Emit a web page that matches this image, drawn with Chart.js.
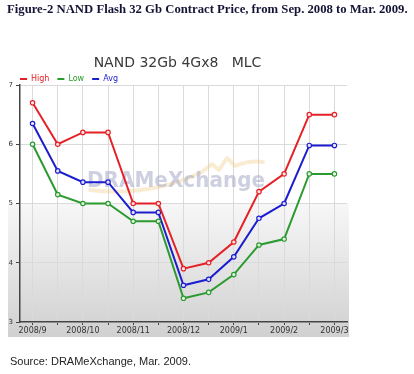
<!DOCTYPE html>
<html>
<head>
<meta charset="utf-8">
<script src="https://cdn.jsdelivr.net/npm/chart.js@4.4.1/dist/chart.umd.min.js"></script>
<style>
  html,body{margin:0;padding:0;background:#fff;}
  #wrap{position:relative;width:414px;height:374px;overflow:hidden;}
  #c{position:absolute;left:0;top:0;}
  #cap{position:absolute;left:7px;top:2px;font-family:"Liberation Serif","Times New Roman",serif;font-weight:bold;font-size:12.5px;color:#141436;white-space:nowrap;}
  #src{position:absolute;left:10px;top:355px;font-family:"Liberation Sans",Arial,sans-serif;font-size:11px;color:#222;white-space:nowrap;}
</style>
</head>
<body>
<div id="wrap">
  <canvas id="c" width="414" height="374"></canvas>
  <div id="cap">Figure-2 NAND Flash 32 Gb Contract Price, from Sep. 2008 to Mar. 2009.</div>
  <div id="src">Source: DRAMeXchange, Mar. 2009.</div>
</div>
<script>
// ---- data ----
const chartTitle = 'NAND 32Gb 4Gx8   MLC';
const periods = ['2008/9 H1','2008/9 H2','2008/10 H1','2008/10 H2','2008/11 H1','2008/11 H2',
                 '2008/12 H1','2008/12 H2','2009/1 H1','2009/1 H2','2009/2 H1','2009/2 H2','2009/3 H1'];
const tickLabels = ['2008/9','','2008/10','','2008/11','','2008/12','','2009/1','','2009/2','','2009/3'];
const highValues = [6.7, 6.0, 6.2, 6.2, 5.0, 5.0, 3.9, 4.0, 4.35, 5.2, 5.5, 6.5, 6.5];
const lowValues  = [6.0, 5.15, 5.0, 5.0, 4.7, 4.7, 3.4, 3.5, 3.8, 4.3, 4.4, 5.5, 5.5];
const avgValues  = [6.35, 5.55, 5.36, 5.36, 4.85, 4.85, 3.62, 3.72, 4.1, 4.75, 5.0, 5.98, 5.98];
const yMin = 3, yMax = 7, yStep = 1;

// fit caption width to the reference
(function(){
  const cap = document.getElementById('cap');
  const target = 401;
  const w = cap.getBoundingClientRect().width;
  cap.style.fontSize = (12.5 * target / w) + 'px';
})();

const FONT = '"DejaVu Sans", Verdana, sans-serif';

const bgPlugin = {
  id: 'bgPanel',
  afterLayout(chart) {
    if (chart.legend) { chart.legend.left = 12; }
    if (chart.titleBlock) { chart.titleBlock.left = 8; }
  },
  beforeDraw(chart) {
    const {ctx, chartArea, scales} = chart;
    const y5 = scales.y.getPixelForValue(5);
    const left = 8, right = chartArea.right + 2, bottom = chartArea.bottom + 15;
    ctx.save();
    const g = ctx.createLinearGradient(0, y5, 0, bottom);
    g.addColorStop(0, '#f7f7f7');
    g.addColorStop(1, '#d0d0d0');
    ctx.fillStyle = g;
    ctx.fillRect(left, y5, right - left, bottom - y5);
    ctx.restore();
  },
  beforeDatasetsDraw(chart) {
    const {ctx} = chart;
    ctx.save();
    // swoosh
    ctx.strokeStyle = 'rgba(240,200,130,0.35)';
    ctx.lineWidth = 4;
    ctx.lineCap = 'round';
    ctx.lineJoin = 'round';
    ctx.beginPath();
    ctx.moveTo(90, 190);
    ctx.quadraticCurveTo(150, 197, 202, 172);
    ctx.lineTo(212, 164);
    ctx.lineTo(219, 170);
    ctx.lineTo(227, 158);
    ctx.lineTo(235, 166);
    ctx.quadraticCurveTo(250, 160, 263, 162);
    ctx.stroke();
    // watermark text
    ctx.font = 'bold 21px ' + FONT;
    ctx.fillStyle = 'rgba(165,170,200,0.55)';
    ctx.textAlign = 'center';
    ctx.textBaseline = 'alphabetic';
    ctx.fillText('DRAMeXchange', 176, 187, 178);
    ctx.restore();
  }
};

const legendFit = {
  id: 'legendFit',
  beforeInit(chart) {
    const lg = chart.legend;
    if (lg && !lg._patched) {
      const f = lg.fit;
      lg.fit = function() { f.call(this); this.height = 18; };
      lg._patched = true;
    }
  }
};

const colors = {high: '#e52127', low: '#2b9a2f', avg: '#1d1dd0'};

new Chart(document.getElementById('c'), {
  type: 'line',
  data: {
    labels: periods,
    datasets: [
      {label: 'High', data: highValues, borderColor: colors.high, backgroundColor: colors.high},
      {label: 'Low', data: lowValues, borderColor: colors.low, backgroundColor: colors.low},
      {label: 'Avg', data: avgValues, borderColor: colors.avg, backgroundColor: colors.avg}
    ].map(d => Object.assign(d, {
      borderWidth: 2, tension: 0, fill: false,
      pointRadius: 2.2, pointBorderWidth: 1.2,
      pointBackgroundColor: 'rgba(255,255,255,0.85)', pointBorderColor: d.borderColor
    }))
  },
  options: {
    responsive: false,
    animation: false,
    devicePixelRatio: 1,
    layout: {padding: {left: 0, right: 67, top: 0, bottom: 38}},
    plugins: {
      title: {
        display: true, text: chartTitle, color: '#3a3a3a',
        font: {family: FONT, size: 14, weight: 'normal'},
        padding: {top: 54.6, bottom: -4.4}
      },
      legend: {
        display: true, align: 'start',
        labels: {
          font: {family: FONT, size: 8},
          usePointStyle: true, pointStyle: 'line', pointStyleWidth: 7, padding: 8,
          generateLabels(chart) {
            return chart.data.datasets.map((ds, i) => ({
              text: ds.label, fontColor: ds.borderColor, strokeStyle: ds.borderColor,
              fillStyle: ds.borderColor, lineWidth: 2, pointStyle: 'line',
              hidden: false, datasetIndex: i
            }));
          }
        }
      },
      tooltip: {enabled: false}
    },
    scales: {
      x: {
        type: 'category', offset: true,
        afterFit(s) { s.height = 14; },
        grid: {offset: false, color: '#dadada', lineWidth: 1, drawTicks: true, tickLength: 3, tickColor: '#444'},
        border: {display: true, color: '#444', width: 1.5},
        ticks: {
          autoSkip: false, maxRotation: 0, padding: 1, color: '#333',
          font: {family: FONT, size: 8},
          callback: (v, i) => tickLabels[i]
        }
      },
      y: {
        min: yMin, max: yMax,
        afterFit(s) { s.width = 20; },
        grid: {color: '#dadada', lineWidth: 1, tickLength: 4, tickColor: '#444'},
        border: {display: true, color: '#444', width: 1.5},
        ticks: {stepSize: yStep, padding: 3, color: '#333', font: {family: FONT, size: 7}}
      }
    }
  },
  plugins: [bgPlugin, legendFit]
});
</script>
</body>
</html>
